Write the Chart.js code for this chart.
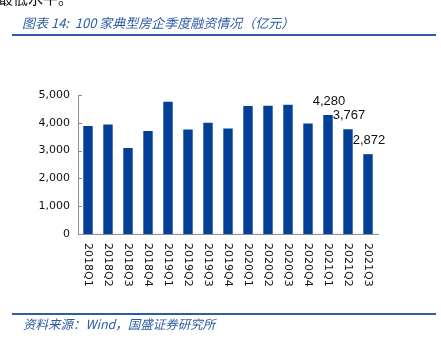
<!DOCTYPE html>
<html>
<head>
<meta charset="utf-8">
<script src="https://cdn.jsdelivr.net/npm/chart.js@4/dist/chart.umd.min.js"></script>
<style>
  html, body { margin: 0; padding: 0; background: #fff; }
  #wrap { position: relative; width: 441px; height: 344px; overflow: hidden; }
  #wrap canvas { position: absolute; left: 0; top: 0; }
  .txt { position: absolute; white-space: nowrap; font-family: "Noto Sans CJK SC", "DejaVu Sans", sans-serif; }
  .lead { left: -2px; top: -10px; font-size: 15px; line-height: 15px; color: #111; }
  .title { left: 22px; top: 14px; font-size: 13px; line-height: 17px; font-style: italic; color: #2B5BA5; }
  .source { left: 23px; top: 315px; font-size: 12.5px; line-height: 17px; font-style: italic; color: #2B5BA5; }
  .rule { position: absolute; left: 12px; width: 424px; height: 2px; background: #2E5DA6; }
</style>
</head>
<body>
<div id="wrap">
  <canvas id="c" width="441" height="344"></canvas>
  <div class="txt lead">最低水平。</div>
  <div class="txt title">图表 14:&nbsp; 100 家典型房企季度融资情况（亿元）</div>
  <div class="rule" style="top:34px"></div>
  <div class="rule" style="top:313px"></div>
  <div class="txt source">资料来源：Wind，国盛证券研究所</div>
</div>
<script>
// Quarterly financing of 100 typical developers (100 million yuan)
const quarters = ['2018Q1','2018Q2','2018Q3','2018Q4','2019Q1','2019Q2','2019Q3','2019Q4',
                  '2020Q1','2020Q2','2020Q3','2020Q4','2021Q1','2021Q2','2021Q3'];
const financing = [3885, 3942, 3094, 3705, 4759, 3763, 4004, 3799,
                   4604, 4615, 4651, 3978, 4280, 3767, 2872];
const labelledQuarters = ['2021Q1', '2021Q2', '2021Q3'];
const yTicks = [0, 1000, 2000, 3000, 4000, 5000];

const fmt = v => v.toLocaleString('en-US');

// Short inward tick marks on the value axis
const innerTicks = {
  id: 'innerTicks',
  afterDraw(chart) {
    const { ctx, scales: { y } } = chart;
    ctx.save();
    ctx.strokeStyle = '#8c8c8c';
    ctx.lineWidth = 1;
    y.ticks.forEach(t => {
      const py = Math.round(y.getPixelForValue(t.value)) + 0.5;
      ctx.beginPath();
      ctx.moveTo(y.right, py);
      ctx.lineTo(y.right + 4, py);
      ctx.stroke();
    });
    ctx.restore();
  }
};

// Category labels turned to read top-to-bottom
const verticalLabels = {
  id: 'verticalLabels',
  afterDraw(chart) {
    const { ctx, scales: { x } } = chart;
    ctx.save();
    ctx.font = '11px "DejaVu Sans"';
    ctx.fillStyle = '#111';
    ctx.textAlign = 'left';
    ctx.textBaseline = 'middle';
    quarters.forEach((q, i) => {
      const px = x.getPixelForValue(i);
      ctx.save();
      ctx.translate(px, x.bottom + 9);
      ctx.rotate(Math.PI / 2);
      ctx.fillText(q, 0, 0);
      ctx.restore();
    });
    ctx.restore();
  }
};

// Value labels over the latest quarters
const valueLabels = {
  id: 'valueLabels',
  afterDatasetsDraw(chart) {
    const { ctx } = chart;
    const meta = chart.getDatasetMeta(0);
    ctx.save();
    ctx.font = '13px "Liberation Sans"';
    ctx.fillStyle = '#111';
    ctx.textAlign = 'center';
    ctx.textBaseline = 'middle';
    quarters.forEach((q, i) => {
      if (!labelledQuarters.includes(q)) return;
      const bar = meta.data[i];
      ctx.fillText(fmt(financing[i]), bar.x + 1, bar.y - 14);
    });
    ctx.restore();
  }
};

new Chart(document.getElementById('c'), {
  type: 'bar',
  data: {
    labels: quarters,
    datasets: [{
      data: financing,
      backgroundColor: '#023F96',
      borderWidth: 0,
      categoryPercentage: 1,
      barPercentage: 0.47
    }]
  },
  options: {
    responsive: false,
    animation: false,
    events: [],
    layout: { padding: { left: 0, right: 63, top: 95, bottom: 110 } },
    plugins: { legend: { display: false }, tooltip: { enabled: false } },
    scales: {
      x: {
        grid: { display: false, drawTicks: false },
        border: { display: true, color: '#8c8c8c', width: 1 },
        ticks: { display: false },
        afterFit(s) { s.height = 0; }
      },
      y: {
        min: 0,
        max: 5000,
        afterBuildTicks(s) { s.ticks = yTicks.map(v => ({ value: v })); },
        grid: { display: false, drawTicks: false },
        border: { display: true, color: '#8c8c8c', width: 1 },
        ticks: {
          padding: 8,
          color: '#111',
          font: { family: 'DejaVu Sans', size: 11 },
          callback: v => fmt(v)
        },
        afterFit(s) { s.width = 78; }
      }
    }
  },
  plugins: [innerTicks, verticalLabels, valueLabels]
});
</script>
</body>
</html>
